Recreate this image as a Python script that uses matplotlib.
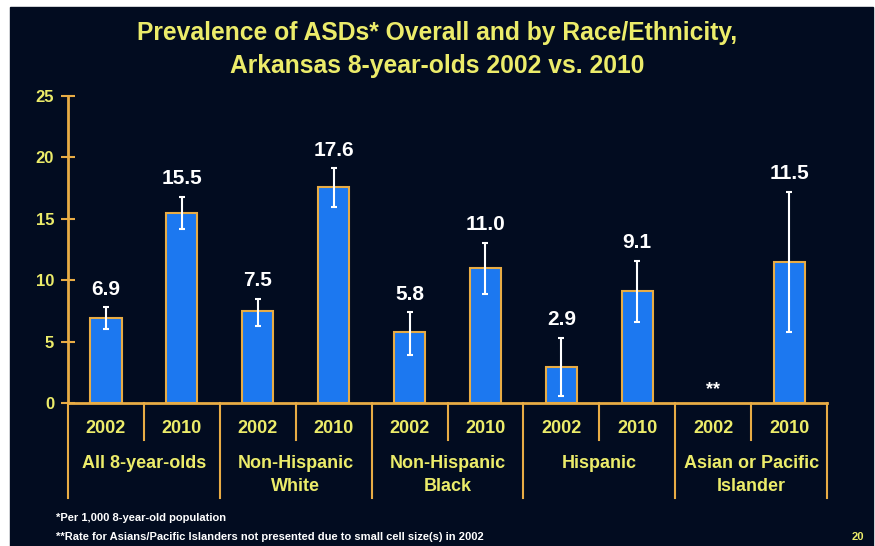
#Prevalence of ASDs in Arkansas, bar chart with error bars
from matplotlib import pyplot as plt
from matplotlib import patches as mp
import matplotlib.transforms as mtransforms
import numpy as np

#one bar per group and year, None = not presented
GROUPS = ['All 8-year-olds', 'Non-Hispanic\nWhite', 'Non-Hispanic\nBlack',
          'Hispanic', 'Asian or Pacific\nIslander']
YEARS = ['2002', '2010']
RATES = [6.9, 15.5, 7.5, 17.6, 5.8, 11.0, 2.9, 9.1, None, 11.5]
LOWER = [6.0, 14.2, 6.3, 16.0, 3.9, 8.85, 0.6, 6.6, None, 5.8]
UPPER = [7.8, 16.8, 8.5, 19.1, 7.4, 13.05, 5.3, 11.6, None, 17.2]

BG = '#020c20'
GOLD = '#e8ac45'
YELLOW = '#ecec6a'
BLUE = '#1c78f0'

plt.rcParams['font.family'] = ['Liberation Sans', 'DejaVu Sans']
plt.rcParams['font.weight'] = 'bold'

fig = plt.figure(figsize=(8.75, 5.46), dpi=100, facecolor='white')
#slide background, thin white border on top and left
fig.patches.append(mp.Rectangle((10 / 875, 0), 863 / 875, 539 / 546,
                                transform=fig.transFigure, color=BG, zorder=-10))

ax = fig.add_axes([0.0777, 0.2619, 0.8675, 0.5623])
ax.set_facecolor(BG)
ax.patch.set_alpha(0)

x = np.arange(len(RATES))
for i in x:
    r = RATES[i]
    if r is None:
        ax.text(i, 0.4, '**', color='white', ha='center', va='bottom', fontsize=13)
        continue
    ax.bar(i, r, width=0.41, color=BLUE, edgecolor=GOLD, linewidth=1.5, zorder=2)
    ax.errorbar(i, r, yerr=[[r - LOWER[i]], [UPPER[i] - r]], fmt='none',
                ecolor='white', elinewidth=1.5, capsize=2.5, capthick=1.5, zorder=3)
    ax.text(i, UPPER[i] + 0.7, '%.1f' % r, color='white', ha='center', va='bottom',
            fontsize=15)

ax.set_xlim(-0.5, len(RATES) - 0.5)
ax.set_ylim(0, 25)
ax.set_yticks([0, 5, 10, 15, 20, 25])
ax.tick_params(axis='y', colors=GOLD, labelcolor=YELLOW, labelsize=12,
               direction='inout', length=10, width=1.5, pad=5)
ax.set_xticks([])
for s in ['top', 'right']:
    ax.spines[s].set_visible(False)
for s in ['left', 'bottom']:
    ax.spines[s].set_color(GOLD)
    ax.spines[s].set_linewidth(2)

#dividers under the axis and category labels
trans = mtransforms.blended_transform_factory(ax.transData, ax.transAxes)
axh = 0.5623 * 5.46 * 100
for k in range(len(RATES) + 1):
    edge = k - 0.5
    depth = 95 if k % 2 == 0 else 37
    ax.plot([edge, edge], [0, -depth / axh], color=GOLD, lw=1.5,
            transform=trans, clip_on=False)
for i in x:
    ax.text(i, -25 / axh, YEARS[i % 2], color=YELLOW, fontsize=13,
            ha='center', va='center', transform=trans)
for g, name in enumerate(GROUPS):
    ax.text(2 * g + 0.5, -52 / axh, name, color=YELLOW, fontsize=13,
            ha='center', va='top', transform=trans, linespacing=1.45)

fig.text(0.5, 0.940, 'Prevalence of ASDs* Overall and by Race/Ethnicity,',
         color=YELLOW, fontsize=17.7, ha='center', va='center')
fig.text(0.5, 0.880, 'Arkansas 8-year-olds 2002 vs. 2010',
         color=YELLOW, fontsize=17.7, ha='center', va='center')

fig.text(0.064, 0.051, '*Per 1,000 8-year-old population', color='white',
         fontsize=8, va='center')
fig.text(0.064, 0.017, '**Rate for Asians/Pacific Islanders not presented due to small cell size(s) in 2002',
         color='white', fontsize=8, va='center')
fig.text(0.988, 0.017, '20', color=YELLOW, fontsize=8, ha='right', va='center')

plt.savefig('out.png', dpi=100, facecolor='white')
